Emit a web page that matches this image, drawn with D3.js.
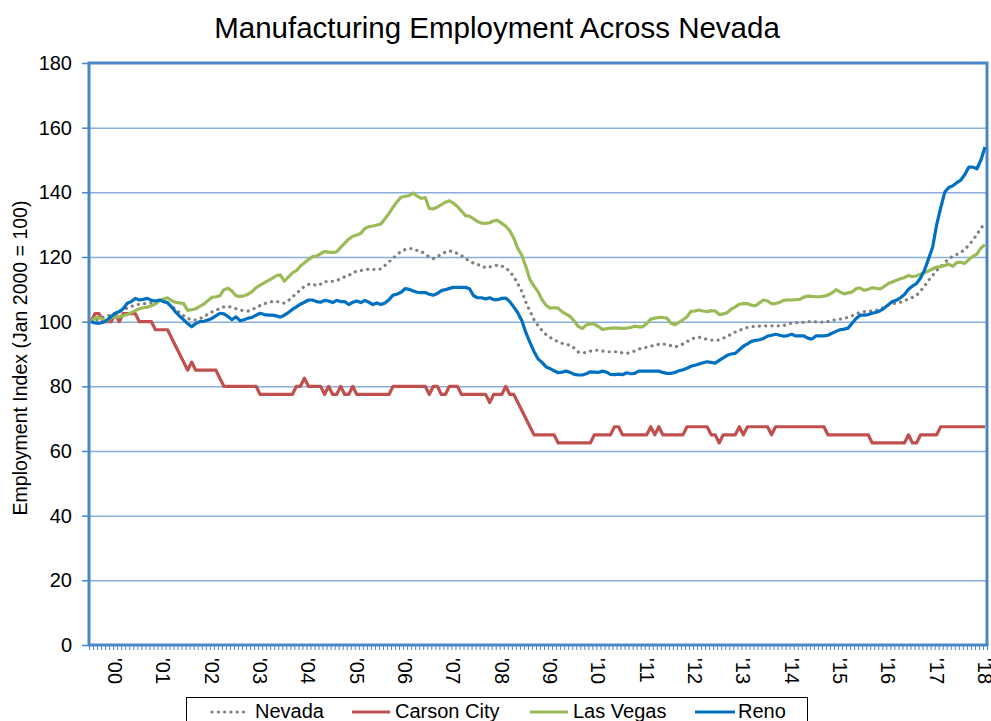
<!DOCTYPE html>
<html>
<head>
<meta charset="utf-8">
<script src="https://cdn.jsdelivr.net/npm/d3@7"></script>
<style>
  body { margin: 0; background: #fff; }
  text { font-family: "Liberation Sans", Arial, sans-serif; fill: #000; }
</style>
</head>
<body>
<script>
const width = 991;
const height = 721;

// monthly categories, Jan 2000 .. Jul 2018
const months = d3.timeMonths(new Date(2000, 0, 1), new Date(2018, 7, 1));
const yearLabels = ["'00","'01","'02","'03","'04","'05","'06","'07","'08","'09",
                    "'10","'11","'12","'13","'14","'15","'16","'17","'18"];
const yTicks = [0, 20, 40, 60, 80, 100, 120, 140, 160, 180];

const seriesNames = ['Nevada', 'Carson City', 'Las Vegas', 'Reno'];

const nevada = [
  100, 100.4, 100.8, 101.3, 101.7, 102.1, 102.6, 103.1, 103.6, 104.3, 104.7, 105.1,
  105.4, 105.5, 105.7, 105.8, 106.2, 106.5, 106.2, 105.6, 104.8, 103.8, 102.8, 101.8,
  101, 100.6, 100.5, 100.9, 101.5, 102.3, 103, 103.6, 104, 104.6, 104.7, 104.5,
  104, 103.6, 103.4, 103.3, 103.8, 104.3, 105, 105.5, 106, 106.2, 106.2, 106.1,
  105.7, 106.5, 107.6, 108.7, 109.9, 110.9, 111.5, 111.7, 111.1, 111.6, 112.4, 112.4,
  112.5, 112.7, 113.3, 113.9, 114.2, 115.2, 115.6, 115.8, 116.1, 116.2, 116.2, 116.2,
  116.3, 117.4, 118.5, 119.6, 120.8, 121.7, 122.3, 122.6, 122.6, 122, 121.7, 120.9,
  120, 119.5, 120.1, 120.9, 121.5, 121.9, 121.6, 121.1, 120.4, 119.5, 118.7, 118.1,
  117.6, 117.4, 116.6, 116.9, 117.3, 117.5, 117.2, 116.6, 115.5, 113.9, 111.7, 109.3,
  106, 103.3, 100.6, 98.8, 97.3, 96, 95.1, 94.4, 93.8, 93.3, 93, 92.7,
  91.8, 90.6, 90.4, 90.4, 90.9, 91.1, 91.2, 90.9, 90.7, 90.7, 90.7, 90.7,
  90.3, 90.2, 90.5, 90.9, 91.5, 91.8, 92.1, 92.4, 92.7, 93, 93.1, 92.9,
  92.6, 92.2, 92.5, 93.1, 93.8, 94.6, 95, 95.2, 94.9, 94.5, 94.3, 94.3,
  94.3, 94.9, 95.4, 96.2, 96.8, 97.3, 97.8, 98.2, 98.4, 98.5, 98.6, 98.7,
  98.7, 98.7, 98.7, 98.7, 98.8, 99.3, 99.6, 99.7, 99.7, 99.8, 100, 100,
  99.9, 99.8, 99.9, 100, 100.4, 100.6, 100.8, 101, 101.4, 101.8, 102.4, 102.9,
  103.1, 103.2, 103.3, 103.5, 103.9, 104.5, 105.1, 105.5, 105.8, 106, 106.5, 107,
  107.5, 108.1, 109.5, 111, 112.8, 114.3, 115.8, 117, 118.2, 119.5, 120.2, 120.8,
  121.4, 122.4, 123.7, 125.2, 127, 128.8, 130.8
];

const carsonCity = [
  100, 102.5, 102.5, 100, 100, 100, 102.5, 100, 102.5, 102.5, 102.5, 102.5,
  100, 100, 100, 100, 97.5, 97.5, 97.5, 97.5, 95, 92.5, 90, 87.5,
  85, 87.5, 85, 85, 85, 85, 85, 85, 82.5, 80, 80, 80,
  80, 80, 80, 80, 80, 80, 77.5, 77.5, 77.5, 77.5, 77.5, 77.5,
  77.5, 77.5, 77.5, 80, 80, 82.5, 80, 80, 80, 80, 77.5, 80,
  77.5, 77.5, 80, 77.5, 77.5, 80, 77.5, 77.5, 77.5, 77.5, 77.5, 77.5,
  77.5, 77.5, 77.5, 80, 80, 80, 80, 80, 80, 80, 80, 80,
  77.5, 80, 80, 77.5, 77.5, 80, 80, 80, 77.5, 77.5, 77.5, 77.5,
  77.5, 77.5, 77.5, 75, 77.5, 77.5, 77.5, 80, 77.5, 77.5, 75, 72.5,
  70, 67.5, 65, 65, 65, 65, 65, 65, 62.5, 62.5, 62.5, 62.5,
  62.5, 62.5, 62.5, 62.5, 62.5, 65, 65, 65, 65, 65, 67.5, 67.5,
  65, 65, 65, 65, 65, 65, 65, 67.5, 65, 67.5, 65, 65,
  65, 65, 65, 65, 67.5, 67.5, 67.5, 67.5, 67.5, 67.5, 65, 65,
  62.5, 65, 65, 65, 65, 67.5, 65, 67.5, 67.5, 67.5, 67.5, 67.5,
  67.5, 65, 67.5, 67.5, 67.5, 67.5, 67.5, 67.5, 67.5, 67.5, 67.5, 67.5,
  67.5, 67.5, 67.5, 65, 65, 65, 65, 65, 65, 65, 65, 65,
  65, 65, 62.5, 62.5, 62.5, 62.5, 62.5, 62.5, 62.5, 62.5, 62.5, 65,
  62.5, 62.5, 65, 65, 65, 65, 65, 67.5, 67.5, 67.5, 67.5, 67.5,
  67.5, 67.5, 67.5, 67.5, 67.5, 67.5, 67.5
];

const lasVegas = [
  100, 101.2, 101.3, 100.6, 100.2, 101.2, 101.5, 101.5, 101.8, 102.2, 102.8, 103.4,
  104, 104.3, 104.5, 104.9, 105.5, 106.5, 107, 107.4, 106.5, 106, 105.8, 105.6,
  103.5, 103.7, 104, 104.7, 105.4, 106.5, 107.5, 107.7, 108, 109.9, 110.3, 109.5,
  108, 107.8, 108, 108.5, 109.3, 110.5, 111.3, 112, 112.7, 113.4, 114.2, 114.5,
  112.5, 113.8, 115.1, 115.8, 117.2, 118.2, 119.2, 120.1, 120.3, 121, 121.7, 121.5,
  121.4, 121.6, 123, 124.3, 125.5, 126.4, 126.8, 127.3, 128.8, 129.4, 129.6, 129.9,
  130.2, 131.8, 133.5, 135.4, 137.1, 138.5, 138.8, 139, 139.8, 138.8, 138.1, 138.4,
  135, 134.9, 135.4, 136.2, 136.9, 137.4, 136.6, 135.6, 134.2, 132.8, 132.6, 131.8,
  131, 130.5, 130.4, 130.6, 131.2, 131.3, 130.4, 129.5, 128.1, 125.8, 122.6, 120.5,
  117, 113, 111, 109.3, 106.8, 105.1, 104.2, 104.3, 104.2, 103, 102.3, 101.6,
  100.2, 98.5, 97.9, 99, 99.4, 99.2, 98.5, 97.6, 97.8, 98, 98.1, 98,
  97.9, 98, 98.2, 98.6, 98.4, 98.4, 99.4, 100.8, 101.1, 101.3, 101.3, 101.1,
  99.6, 99, 99.8, 100.6, 101.5, 103.2, 103.3, 103.6, 103.3, 103.1, 103.4, 103.3,
  102.2, 102.4, 102.8, 103.9, 104.6, 105.4, 105.6, 105.6, 105.1, 104.9, 105.8, 106.7,
  106.4, 105.6, 105.6, 106, 106.6, 106.7, 106.7, 106.8, 106.9, 107.6, 107.9, 107.8,
  107.7, 107.7, 107.9, 108.2, 108.9, 109.9, 109.2, 108.6, 108.9, 109.2, 110.2, 110.4,
  109.7, 110, 110.5, 110.3, 110.1, 110.9, 111.8, 112.3, 112.8, 113.3, 113.6, 114.3,
  113.9, 114.2, 114.7, 115.2, 115.7, 116.3, 116.9, 117, 117.4, 117.8, 117.1, 118.3,
  118.4, 118, 119.2, 120.2, 120.9, 122.8, 123.8
];

const reno = [
  100, 99.6, 99.5, 99.8, 100.5, 101.6, 102.6, 103.1, 104, 105.7, 106.2, 107.2,
  106.7, 106.9, 107.2, 106.6, 106.4, 106.7, 106.2, 105.9, 104.6, 103, 101.7, 100.6,
  99.4, 98.4, 99.4, 100, 100.1, 100.5, 101, 101.8, 102.6, 102.4, 101.6, 100.6,
  101.5, 100.3, 100.6, 101.1, 101.3, 102, 102.6, 102.2, 102, 102, 101.8, 101.4,
  102, 102.8, 103.8, 104.6, 105.4, 106, 106.7, 106.7, 106.2, 106, 106.6, 106.4,
  105.9, 106.6, 106.2, 106.2, 105.3, 106, 106.4, 105.9, 106.6, 106, 105.3, 105.8,
  105.3, 105.8, 106.8, 108.2, 108.5, 109.1, 110.2, 110, 109.5, 109.1, 109, 109,
  108.5, 108.2, 108.7, 109.6, 109.9, 110.3, 110.6, 110.6, 110.6, 110.6, 110.2, 108,
  107.4, 107.4, 107, 107.4, 106.8, 106.8, 107.2, 107.3, 106.2, 104.5, 102.7, 100.3,
  96.6, 93.6, 90.8, 88.5, 87.4, 86, 85.5, 84.8, 84.2, 84.4, 84.7, 84.3,
  83.7, 83.5, 83.5, 83.9, 84.5, 84.4, 84.3, 84.7, 84.4, 83.7, 83.6, 83.8,
  83.6, 84.2, 83.9, 84, 84.7, 84.7, 84.7, 84.7, 84.7, 84.7, 84.3, 84,
  84, 84.3, 84.8, 85.1, 85.6, 86.2, 86.5, 86.9, 87.3, 87.6, 87.4, 87.2,
  88, 88.8, 89.6, 90, 90.2, 91.3, 92.4, 93.1, 93.9, 94.2, 94.4, 94.8,
  95.5, 95.8, 96.1, 95.8, 95.5, 95.7, 96.1, 95.6, 95.6, 95.6, 94.9, 94.6,
  95.6, 95.6, 95.6, 95.8, 96.4, 97, 97.5, 97.7, 98, 99.5, 101, 102,
  102, 102.2, 102.6, 102.9, 103.4, 104.2, 105.2, 106.2, 106.6, 107.4, 108.4, 110,
  111, 111.8, 113.5, 116, 119.5, 123, 130, 135.2, 140, 141.5, 142, 143,
  143.8, 145.5, 147.8, 147.8, 147.3, 150, 154
];

const colors = { 'Nevada': '#808080', 'Carson City': '#c0504d', 'Las Vegas': '#9bbb59', 'Reno': '#0070c0' };
const seriesData = { 'Nevada': nevada, 'Carson City': carsonCity, 'Las Vegas': lasVegas, 'Reno': reno };

const plot = { left: 89, right: 987, top: 63, bottom: 645 };

const svg = d3.select('body')
    .append('svg')
    .attr('width', width)
    .attr('height', height);

const xScale = d3.scaleBand()
    .domain(d3.range(months.length))
    .range([plot.left, plot.right]);
const xTickScale = d3.scaleLinear()
    .domain([0, months.length])
    .range([plot.left, plot.right]);
const yScale = d3.scaleLinear()
    .domain([0, 180])
    .range([plot.bottom, plot.top]);

const cx = i => xScale(i) + xScale.bandwidth() / 2;

// title
svg.append('text')
    .attr('x', 497)
    .attr('y', 38)
    .attr('text-anchor', 'middle')
    .style('font-size', '29.5px')
    .text('Manufacturing Employment Across Nevada');

// gridlines
svg.append('g')
    .attr('transform', `translate(${plot.left},0)`)
    .call(d3.axisLeft(yScale).tickValues(yTicks.slice(1, -1)).tickSize(-(plot.right - plot.left)).tickFormat(''))
    .call(g => g.select('.domain').remove())
    .selectAll('line')
    .attr('stroke', '#8aaedb')
    .attr('stroke-width', 1.5);

// y axis ticks and labels
const yAxisG = svg.append('g')
    .attr('transform', `translate(${plot.left},0)`)
    .call(d3.axisLeft(yScale).tickValues(yTicks).tickSize(7).tickPadding(10));
yAxisG.select('.domain').remove();
yAxisG.selectAll('line').attr('stroke', '#4a86c8').attr('stroke-width', 1.5);
yAxisG.selectAll('text')
    .style('font-size', '20px')
    .style('font-family', '"Liberation Sans", Arial, sans-serif')
    .attr('fill', '#000');

svg.append('text')
    .attr('transform', `translate(27, 358) rotate(-90)`)
    .attr('text-anchor', 'middle')
    .style('font-size', '19.5px')
    .text('Employment Index (Jan 2000 = 100)');

// x axis small monthly ticks
const xAxisG = svg.append('g')
    .attr('transform', `translate(0, ${plot.bottom})`)
    .call(d3.axisBottom(xTickScale).tickValues(d3.range(months.length + 1)).tickSize(5).tickFormat(''));
xAxisG.select('.domain').remove();
xAxisG.selectAll('line').attr('stroke', '#4a86c8').attr('stroke-width', 1);

// year labels at July of each year
svg.append('g')
    .selectAll('text')
    .data(yearLabels)
    .enter()
    .append('text')
    .attr('transform', (d, k) => `translate(${cx(6 + 12 * k) - 7}, 658) rotate(90)`)
    .style('font-size', '20px')
    .text(d => d);

// plot border
svg.append('rect')
    .attr('x', plot.left)
    .attr('y', plot.top)
    .attr('width', plot.right - plot.left)
    .attr('height', plot.bottom - plot.top)
    .attr('fill', 'none')
    .attr('stroke', '#4a86c8')
    .attr('stroke-width', 3);

// lines
const line = d3.line()
    .x((d, i) => cx(i))
    .y(d => yScale(d));

seriesNames.forEach(name => {
    const path = svg.append('path')
        .datum(seriesData[name])
        .attr('d', line)
        .attr('fill', 'none')
        .attr('stroke', colors[name])
        .attr('stroke-width', 3.2)
        .attr('stroke-linejoin', 'round');
    if (name === 'Nevada') {
        path.attr('stroke-dasharray', '0.1 6.2')
            .attr('stroke-linecap', 'round')
            .attr('stroke-width', 3.2);
    }
});

// legend
const legend = svg.append('g');
legend.append('rect')
    .attr('x', 186.5)
    .attr('y', 697.5)
    .attr('width', 621)
    .attr('height', 40)
    .attr('fill', '#fff')
    .attr('stroke', '#000')
    .attr('stroke-width', 1);

const legendPos = [
    { name: 'Nevada', x1: 212, x2: 248, tx: 255 },
    { name: 'Carson City', x1: 352, x2: 390, tx: 395 },
    { name: 'Las Vegas', x1: 530, x2: 568, tx: 573 },
    { name: 'Reno', x1: 695, x2: 735, tx: 738 }
];
legendPos.forEach(p => {
    const l = legend.append('line')
        .attr('x1', p.x1).attr('x2', p.x2)
        .attr('y1', 712).attr('y2', 712)
        .attr('stroke', colors[p.name])
        .attr('stroke-width', 3);
    if (p.name === 'Nevada') {
        l.attr('stroke-dasharray', '0.1 6.2').attr('stroke-linecap', 'round').attr('stroke-width', 3.2);
    }
    legend.append('text')
        .attr('x', p.tx)
        .attr('y', 718)
        .style('font-size', '20px')
        .text(p.name);
});
</script>
</body>
</html>
